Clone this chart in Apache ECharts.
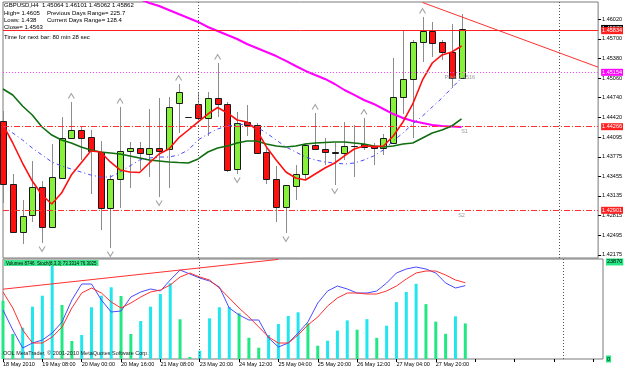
<!DOCTYPE html>
<html>
<head>
<meta charset="utf-8">
<title>GBPUSD,H4</title>
<script src="https://cdn.jsdelivr.net/npm/echarts@6.0.0/dist/echarts.min.js"></script>
<style>
  html, body { margin: 0; padding: 0; background: #fff; }
  #main { width: 625px; height: 370px; }
</style>
</head>
<body>
<div id="main"></div>
<script>
// ---- data ----
var barTimes = ['18 May 16:00', '18 May 20:00', '19 May 00:00', '19 May 04:00', '19 May 08:00', '19 May 12:00',
  '19 May 16:00', '19 May 20:00', '20 May 00:00', '20 May 04:00', '20 May 08:00', '20 May 12:00',
  '20 May 16:00', '20 May 20:00', '21 May 00:00', '21 May 04:00', '21 May 08:00', '21 May 12:00',
  '21 May 16:00', '21 May 20:00', '23 May 20:00', '24 May 00:00', '24 May 04:00', '24 May 08:00',
  '24 May 12:00', '24 May 16:00', '24 May 20:00', '25 May 00:00', '25 May 04:00', '25 May 08:00',
  '25 May 12:00', '25 May 16:00', '25 May 20:00', '26 May 00:00', '26 May 04:00', '26 May 08:00',
  '26 May 12:00', '26 May 16:00', '26 May 20:00', '27 May 00:00', '27 May 04:00', '27 May 08:00',
  '27 May 12:00', '27 May 16:00', '27 May 20:00', '28 May 00:00', '28 May 04:00', '28 May 08:00'];
var futureSlots = 14;

var opens = [1.44359, 1.43330, 1.42546, 1.42824, 1.43281, 1.42628, 1.43428, 1.44082, 1.44212, 1.44098, 1.43853, 1.42938,
  1.43412, 1.43869, 1.43918, 1.43820, 1.43918, 1.43902, 1.44653, 1.44424, 1.44637, 1.44408, 1.44735, 1.44637,
  1.43575, 1.44343, 1.44294, 1.43853, 1.43412, 1.42955, 1.43298, 1.43494, 1.43967, 1.43902, 1.43853, 1.43837,
  1.43951, 1.43984, 1.43951, 1.43918, 1.44000, 1.44751, 1.45045, 1.45649, 1.45829, 1.45649, 1.45486, 1.45064];
var highs = [1.44522, 1.43494, 1.43069, 1.43706, 1.43379, 1.43984, 1.44424, 1.44669, 1.44261, 1.44212, 1.44033, 1.43477,
  1.44588, 1.44016, 1.44016, 1.44555, 1.44735, 1.44751, 1.44963, 1.44424, 1.44833, 1.44833, 1.45306, 1.44669,
  1.44506, 1.44620, 1.44326, 1.43918, 1.43624, 1.43314, 1.43641, 1.44000, 1.44490, 1.44082, 1.44000, 1.44343,
  1.44294, 1.44408, 1.44000, 1.44147, 1.45388, 1.45829, 1.45682, 1.46057, 1.45976, 1.45682, 1.45943, 1.46101];
var lows = [1.43020, 1.42530, 1.42351, 1.42710, 1.42367, 1.42612, 1.43428, 1.44082, 1.43722, 1.43167, 1.42579, 1.42285,
  1.42938, 1.43265, 1.43559, 1.43445, 1.43118, 1.43265, 1.44163, 1.44424, 1.44408, 1.44114, 1.44424, 1.43526,
  1.43494, 1.44114, 1.43837, 1.43330, 1.42710, 1.42530, 1.43069, 1.43396, 1.43886, 1.43641, 1.43314, 1.43722,
  1.43445, 1.43886, 1.43641, 1.43804, 1.44000, 1.44473, 1.44082, 1.45323, 1.45404, 1.45355, 1.44898, 1.45062];
var closes = [1.43330, 1.42546, 1.42808, 1.43281, 1.42628, 1.43445, 1.44082, 1.44212, 1.44082, 1.43869, 1.42938, 1.43412,
  1.43869, 1.43918, 1.43837, 1.43918, 1.43869, 1.44588, 1.44833, 1.44424, 1.44408, 1.44735, 1.44637, 1.43559,
  1.44326, 1.44294, 1.43837, 1.43412, 1.42955, 1.43314, 1.43494, 1.43967, 1.43902, 1.43853, 1.43837, 1.43951,
  1.43951, 1.43935, 1.43918, 1.44082, 1.44751, 1.45045, 1.45649, 1.45829, 1.45633, 1.45486, 1.45061, 1.45862];

// moving averages
var maRed = [1.44294, 1.44000, 1.43673, 1.43379, 1.43151, 1.43004, 1.43183, 1.43477, 1.43673, 1.43869, 1.43853, 1.43690,
  1.43559, 1.43526, 1.43518, 1.43673, 1.43820, 1.43902, 1.44082, 1.44212, 1.44343, 1.44473, 1.44580, 1.44490,
  1.44375, 1.44343, 1.44212, 1.43935, 1.43722, 1.43526, 1.43428, 1.43396, 1.43494, 1.43592, 1.43673, 1.43788,
  1.43902, 1.43951, 1.43943, 1.43951, 1.44114, 1.44343, 1.44637, 1.45029, 1.45306, 1.45437, 1.45486, 1.45584];
var maBlue = [1.44277, 1.44163, 1.44049, 1.43918, 1.43804, 1.43690, 1.43624, 1.43575, 1.43526, 1.43477, 1.43445, 1.43445,
  1.43526, 1.43624, 1.43722, 1.43755, 1.43771, 1.43771, 1.43804, 1.43886, 1.44049, 1.44147, 1.44229, 1.44277,
  1.44294, 1.44310, 1.44261, 1.44163, 1.44049, 1.43935, 1.43853, 1.43771, 1.43722, 1.43690, 1.43673, 1.43657,
  1.43673, 1.43722, 1.43788, 1.43886, 1.44033, 1.44163, 1.44310, 1.44441, 1.44588, 1.44735, 1.44898, 1.45061];
var maGreen = [1.44882, 1.44784, 1.44604, 1.44457, 1.44261, 1.44130, 1.44049, 1.44000, 1.43935, 1.43886, 1.43853, 1.43837,
  1.43820, 1.43788, 1.43755, 1.43722, 1.43706, 1.43690, 1.43681, 1.43673, 1.43739, 1.43853, 1.43918, 1.43951,
  1.44000, 1.44033, 1.44033, 1.43984, 1.43951, 1.43935, 1.43951, 1.43984, 1.44000, 1.44008, 1.44016, 1.44016,
  1.44000, 1.43984, 1.43951, 1.43935, 1.43951, 1.43984, 1.44000, 1.44082, 1.44163, 1.44212, 1.44277, 1.44392];
var maMagenta = [null, null, null, null, null, null, null, null, null, null, null, null,
  null, null, 1.46351, 1.46286, 1.46237, 1.46172, 1.46106, 1.46041, 1.45976, 1.45894, 1.45829, 1.45763,
  1.45698, 1.45616, 1.45551, 1.45486, 1.45420, 1.45339, 1.45257, 1.45176, 1.45110, 1.45045, 1.44963, 1.44865,
  1.44784, 1.44702, 1.44637, 1.44555, 1.44473, 1.44408, 1.44359, 1.44326, 1.44294, 1.44277, 1.44269, 1.44261];

var fractalUp = [7, 12, 18, 22, 32, 37, 43];
var fractalDown = [4, 11, 16, 24, 29, 34];

// levels
var bidPrice = 1.45870;
var resistanceLevel = 1.45834;
var pivotLevel = 1.45154;
var s1Level = 1.44266;
var s2Level = 1.42901;
var trendTop = [[43, 1.46294], [61, 1.45238]];

// lower window
var volumes = [14340, 6150, 7700, 12870, 15570, 23870, 13280, 4430, 5900, 12720, 15570, 17640,
  15500, 6150, 9350, 12870, 15990, 18620, 9770, 490, 2040, 10010, 12720, 12790,
  11240, 5240, 2780, 5900, 8610, 10580, 11490, 8780, 3270, 4500, 7000, 9500,
  7200, 9800, 5200, 8200, 14000, 16500, 18500, 13500, 9200, 6200, 10500, 8746];
var stochMain = [49, 29, 11, 16, 19, 26, 37, 59, 75, 75, 59, 47, 48, 62, 67, 70, 68, 79, 89, 85, 81, 78, 72, 51,
  44, 39, 39, 21, 12, 16, 26, 37, 56, 68, 73, 70, 66, 66, 68, 76, 86, 90, 92, 90, 86, 76, 71, 73.3314];
var stochSignal = [67, 51, 29, 16, 16, 22, 32, 51, 66, 71, 66, 57, 51, 56, 62, 67, 69, 74, 82, 86, 82, 79, 71, 61,
  51, 42, 32, 22, 16, 16, 24, 34, 42, 53, 61, 66, 66, 65, 65, 68, 73, 80, 86, 88, 88, 84, 79, 76.3025];
var trendLow = [[0, 69.8], [28, 99.6]];

var priceTicks = [1.46020, 1.45700, 1.45380, 1.45060, 1.44740, 1.44420, 1.44095, 1.43775, 1.43455, 1.43135, 1.42815, 1.42495, 1.42175];
var volTop = 23870;

// ---- chart ----
var FONT = 'Liberation Sans';
var categories = barTimes.concat(new Array(futureSlots).fill(''));
var ohlc = opens.map(function (o, i) { return [i, o, closes[i], lows[i], highs[i]]; });
var last = opens.length - 1;
var hidden = { color: 'rgba(0,0,0,0)', width: 0 };

function tag(bg, fg, digits) {
  return {
    show: true, position: 'end', distance: 3,
    formatter: function (p) { return Number(p.value).toFixed(digits === undefined ? 5 : digits); },
    color: fg || '#fff', backgroundColor: bg, padding: [1, 1, 0, 1],
    fontSize: 5.5, fontFamily: FONT
  };
}

function renderCandle(params, api) {
  var i = api.value(0);
  var o = api.coord([i, api.value(1)]);
  var c = api.coord([i, api.value(2)]);
  var lo = api.coord([i, api.value(3)]);
  var hi = api.coord([i, api.value(4)]);
  var x = Math.round(o[0]) + 0.5;
  var top = Math.round(Math.min(o[1], c[1])) + 0.5;
  var bot = Math.round(Math.max(o[1], c[1])) + 0.5;
  var up = api.value(2) > api.value(1);
  return {
    type: 'group',
    children: [
      { type: 'line', shape: { x1: x, y1: Math.round(hi[1]), x2: x, y2: Math.round(lo[1]) },
        style: { stroke: '#8c8c8c', lineWidth: 1 } },
      { type: 'rect', shape: { x: x - 3, y: top, width: 6, height: Math.max(bot - top, 0) },
        style: { fill: up ? '#86f03a' : '#ff1010', stroke: '#1a1a1a', lineWidth: 1 } }
    ]
  };
}

var volData = volumes.map(function (v, i) {
  var rising = i === 0 ? false : v > volumes[i - 1];
  return { value: v, itemStyle: { color: rising ? '#22e6ee' : '#22e884' } };
});

var sepLine = { color: '#555', type: [1, 2], width: 1 };

var chart = echarts.init(document.getElementById('main'));
var option = {
  animation: false,
  backgroundColor: '#fff',
  textStyle: { fontFamily: FONT },
  grid: [
    { left: 3, top: 2, width: 600, height: 256, show: true, borderColor: '#7a7a7a', borderWidth: 1 },
    { left: 3, top: 259, width: 600, height: 100, show: true, borderColor: '#7a7a7a', borderWidth: 1 }
  ],
  xAxis: [
    { type: 'category', gridIndex: 0, data: categories, boundaryGap: false,
      axisLine: { show: false }, axisTick: { show: false }, axisLabel: { show: false }, splitLine: { show: false } },
    { type: 'category', gridIndex: 1, data: categories, boundaryGap: false,
      axisLine: { show: false },
      axisTick: { show: true, interval: 3, length: 3, lineStyle: { color: '#000' } },
      axisLabel: { show: true, interval: 3, align: 'left', margin: 2, fontSize: 5.5, color: '#000', fontFamily: FONT,
        formatter: function (v, i) { return i === 0 ? '18 May 2010' : v; } },
      splitLine: { show: false } }
  ],
  yAxis: [
    { type: 'value', gridIndex: 0, position: 'right', min: 1.42122, max: 1.46302, scale: true,
      splitLine: { show: false }, axisLine: { show: false },
      axisTick: { show: true, length: 3, customValues: priceTicks, lineStyle: { color: '#000' } },
      axisLabel: { show: true, customValues: priceTicks, margin: 4, fontSize: 5.5, color: '#000', fontFamily: FONT,
        formatter: function (v) { return v.toFixed(5); } } },
    { type: 'value', gridIndex: 1, position: 'right', min: 0, max: 24600,
      splitLine: { show: false }, axisLine: { show: false }, axisTick: { show: false }, axisLabel: { show: false } },
    { type: 'value', gridIndex: 1, position: 'right', min: 0, max: 100,
      splitLine: { show: false }, axisLine: { show: false }, axisTick: { show: false }, axisLabel: { show: false } }
  ],
  series: [
    { name: 'levels', type: 'line', xAxisIndex: 0, yAxisIndex: 0, data: [], z: 1,
      markLine: {
        silent: true, symbol: ['none', 'none'], precision: 5,
        data: [
          { yAxis: bidPrice, lineStyle: hidden, label: tag('#000') },
          { yAxis: resistanceLevel, lineStyle: { color: '#ff2020', type: 'solid', width: 1 }, label: tag('#ff2020') },
          { yAxis: pivotLevel, lineStyle: { color: '#ff40ff', type: [1, 2], width: 1 }, label: tag('#ff00ff') },
          { yAxis: s1Level, lineStyle: { color: '#ff3030', type: [6, 2, 1, 2], width: 1 }, label: tag('#ff2020') },
          { yAxis: s2Level, lineStyle: { color: '#ff3030', type: [6, 2, 1, 2], width: 1 }, label: tag('#ff2020') },
          { xAxis: 20, lineStyle: sepLine, label: { show: false } },
          { xAxis: 57, lineStyle: sepLine, label: { show: false } },
          [{ coord: trendTop[0] }, { coord: trendTop[1], lineStyle: { color: '#ff3030', type: 'solid', width: 1 }, label: { show: false } }]
        ]
      },
      markPoint: {
        silent: true, symbol: 'circle', symbolSize: 0,
        label: { show: true, position: 'bottom', distance: 2, color: '#999', fontSize: 5.5, fontFamily: FONT,
          formatter: function (p) { return p.name; } },
        data: [
          { name: 'Pivot 1.4516', coord: [46, pivotLevel], label: { offset: [8, 0] } },
          { name: 'S1', coord: [47, s1Level], label: { offset: [3, 0] } },
          { name: 'S2', coord: [47, s2Level] }
        ]
      }
    },
    { name: 'GBPUSD', type: 'custom', xAxisIndex: 0, yAxisIndex: 0, renderItem: renderCandle,
      encode: { x: 0, y: [1, 2, 3, 4] }, data: ohlc, z: 2 },
    { name: 'MA magenta', type: 'line', xAxisIndex: 0, yAxisIndex: 0, data: maMagenta, symbol: 'none',
      lineStyle: { color: '#ff00ff', width: 2 }, z: 3 },
    { name: 'MA green', type: 'line', xAxisIndex: 0, yAxisIndex: 0, data: maGreen, symbol: 'none',
      lineStyle: { color: '#0f6e0f', width: 1.6 }, z: 3 },
    { name: 'MA blue', type: 'line', xAxisIndex: 0, yAxisIndex: 0, data: maBlue, symbol: 'none',
      lineStyle: { color: '#4a4aff', width: 1, type: [4, 3, 1, 3] }, z: 3 },
    { name: 'MA red', type: 'line', xAxisIndex: 0, yAxisIndex: 0, data: maRed, symbol: 'none',
      lineStyle: { color: '#ff1010', width: 1.6 }, z: 4 },
    { name: 'fractal up', type: 'scatter', xAxisIndex: 0, yAxisIndex: 0, z: 4,
      data: fractalUp.map(function (i) { return [i, highs[i]]; }),
      symbol: 'path://M0,8L4,0L8,8', symbolSize: [6, 5], symbolOffset: [0, -6],
      itemStyle: { color: 'rgba(0,0,0,0)', borderColor: '#8c8c8c', borderWidth: 1 } },
    { name: 'fractal down', type: 'scatter', xAxisIndex: 0, yAxisIndex: 0, z: 4,
      data: fractalDown.map(function (i) { return [i, lows[i]]; }),
      symbol: 'path://M0,0L4,8L8,0', symbolSize: [6, 5], symbolOffset: [0, 6],
      itemStyle: { color: 'rgba(0,0,0,0)', borderColor: '#8c8c8c', borderWidth: 1 } },

    { name: 'Volumes', type: 'bar', xAxisIndex: 1, yAxisIndex: 1, data: volData, barWidth: 3, z: 2,
      markLine: {
        silent: true, symbol: ['none', 'none'],
        data: [
          { xAxis: 20, lineStyle: sepLine, label: { show: false } },
          { xAxis: 57, lineStyle: sepLine, label: { show: false } }
        ]
      }
    },
    { name: 'volume scale', type: 'line', xAxisIndex: 1, yAxisIndex: 1, data: [], z: 5,
      markLine: {
        silent: true, symbol: ['none', 'none'], precision: 0,
        data: [
          { yAxis: volTop, lineStyle: hidden, label: tag('#22e884', '#000', 0) },
          { yAxis: 0, lineStyle: hidden, label: tag('#22e884', '#000', 0) }
        ]
      }
    },
    { name: 'Stoch main', type: 'line', xAxisIndex: 1, yAxisIndex: 2, data: stochMain, symbol: 'none',
      lineStyle: { color: '#4a4aff', width: 1 }, z: 3 },
    { name: 'Stoch signal', type: 'line', xAxisIndex: 1, yAxisIndex: 2, data: stochSignal, symbol: 'none',
      lineStyle: { color: '#ff3030', width: 1 }, z: 3,
      markLine: {
        silent: true, symbol: ['none', 'none'], precision: 2,
        data: [[{ coord: trendLow[0] }, { coord: trendLow[1], lineStyle: { color: '#ff3030', type: 'solid', width: 1 }, label: { show: false } }]]
      }
    }
  ],
  graphic: [
    { type: 'text', left: 4, top: 2, z: 10, style: { text: 'GBPUSD,H4  ' + [opens[last], highs[last], lows[last], closes[last]].map(function (v) { return v.toFixed(5); }).join(' '), fontSize: 6, fontFamily: FONT, fill: '#000' } },
    { type: 'text', left: 4, top: 10, z: 10, style: { text: 'High= 1.4605', fontSize: 6, fontFamily: FONT, fill: '#000' } },
    { type: 'text', left: 47, top: 10, z: 10, style: { text: 'Previous Days Range= 225.7', fontSize: 6, fontFamily: FONT, fill: '#000' } },
    { type: 'text', left: 4, top: 17.5, z: 10, style: { text: 'Lows: 1.438', fontSize: 6, fontFamily: FONT, fill: '#000' } },
    { type: 'text', left: 47, top: 17.5, z: 10, style: { text: 'Current Days Range= 128.4', fontSize: 6, fontFamily: FONT, fill: '#000' } },
    { type: 'text', left: 4, top: 24.5, z: 10, style: { text: 'Close= 1.4563', fontSize: 6, fontFamily: FONT, fill: '#000' } },
    { type: 'text', left: 4, top: 34.5, z: 10, style: { text: 'Time for next bar: 80 min 28 sec', fontSize: 6, fontFamily: FONT, fill: '#000' } },
    { type: 'text', left: 4, top: 260, z: 10, style: { text: 'Volumes ' + volumes[last] + '  Stoch(8,3,3) ' + stochMain[last].toFixed(4) + ' ' + stochSignal[last].toFixed(4),
      fontSize: 4.5, fontFamily: FONT, fill: '#000', backgroundColor: '#3ee88a', padding: [1, 2, 0, 2] } },
    { type: 'text', left: 3, top: 350, z: 10, style: { text: 'OOL MetaTrader, \u00a9 2001-2010 MetaQuotes Software Corp.', fontSize: 5.5, fontFamily: FONT, fill: '#222' } }
  ]
};
chart.setOption(option);
</script>
</body>
</html>
